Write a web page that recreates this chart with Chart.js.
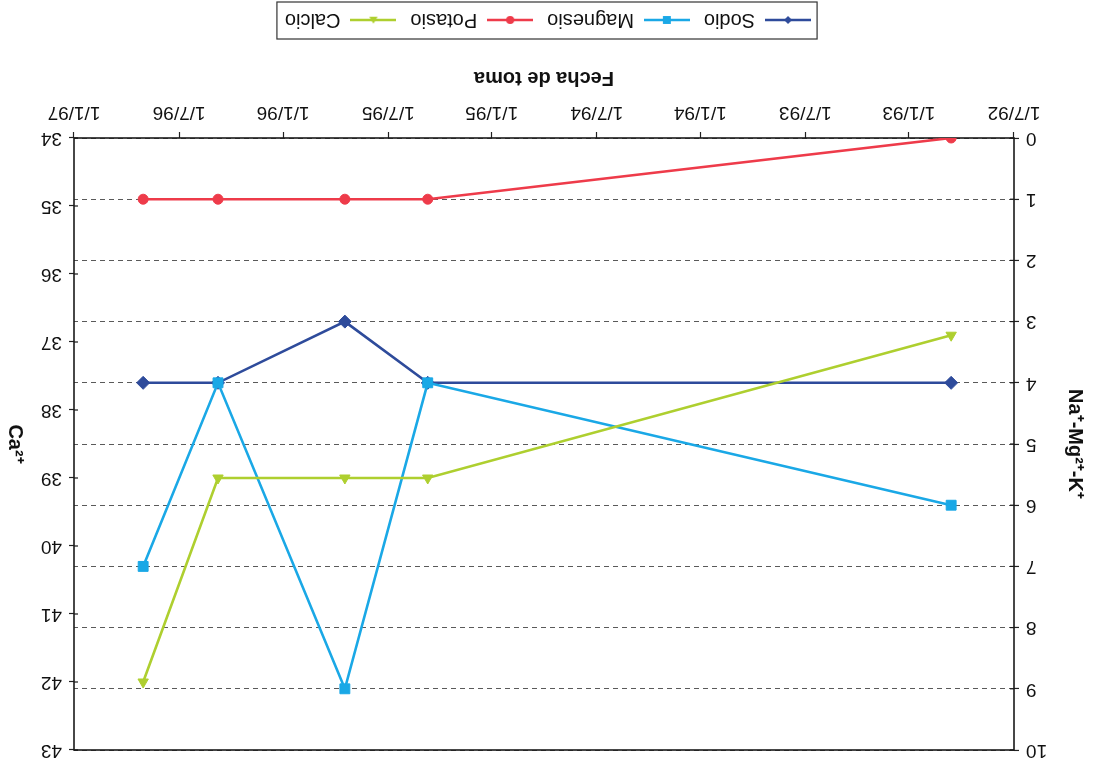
<!DOCTYPE html>
<html><head><meta charset="utf-8">
<script src="https://cdn.jsdelivr.net/npm/chart.js@4.4.0/dist/chart.umd.min.js"></script>
<style>
html,body{margin:0;padding:0;background:#fff;overflow:hidden;}
#wrap{width:1096px;height:770px;transform:rotate(180deg);transform-origin:50% 50%;}
canvas{display:block;}
</style></head><body>
<div id="wrap"><canvas id="c" width="1096" height="770"></canvas></div>
<script>
// ---- data ----
const tickLabels = ['1/7/92','1/1/93','1/7/93','1/1/94','1/7/94','1/1/95','1/7/95','1/1/96','1/7/96','1/1/97'];
const sampleDates = ['19/10/92','23/4/95','15/9/95','24/4/96','2/9/96'];
const sodio    = [4, 4, 3, 4, 4];
const magnesio = [6, 4, 9, 4, 7];
const potasio  = [0, 1, 1, 1, 1];
const calcio   = [36.9, 39, 39, 39, 42];
const seriesNames = ['Sodio', 'Magnesio', 'Potasio', 'Calcio'];

// ---- helpers ----
function toDay(s) {
  const [d, m, y] = s.split('/').map(Number);
  return Date.UTC(1900 + y, m - 1, d) / 86400000;
}
const tickDays = tickLabels.map(toDay);
const sampleDays = sampleDates.map(toDay);
const FONT = "'Liberation Sans', Arial, Helvetica, sans-serif";
Chart.defaults.font.family = FONT;
Chart.defaults.color = '#111';

const styles = [
  {color: '#2E4B9B', point: 'rectRot', r: 6.5},
  {color: '#1AA8E6', point: 'rect', r: 7},
  {color: '#EE3B4A', point: 'circle', r: 5},
  {color: '#AECF2F', point: 'triangle', r: 6}
];

function pts(vals) { return sampleDays.map((d, i) => ({x: d, y: vals[i]})); }

function marker(ctx, type, x, y, r) {
  ctx.beginPath();
  if (type === 'circle') { ctx.arc(x, y, r, 0, Math.PI * 2); }
  else if (type === 'rect') { const s = r * Math.SQRT1_2; ctx.rect(x - s, y - s, 2 * s, 2 * s); }
  else if (type === 'rectRot') { const s = r * Math.SQRT1_2 * 1.1; ctx.moveTo(x - s, y); ctx.lineTo(x, y + s); ctx.lineTo(x + s, y); ctx.lineTo(x, y - s); ctx.closePath(); }
  else if (type === 'triangle') {
    for (let k = 0; k < 3; k++) {
      const a = -Math.PI / 2 + k * 2 * Math.PI / 3;
      const px = x + Math.cos(a) * r, py = y + Math.sin(a) * r * 1.0 + r * 0.2;
      if (k === 0) ctx.moveTo(px, py); else ctx.lineTo(px, py);
    }
    ctx.closePath();
  }
  ctx.fill();
}

function legendIcon(st) {
  const c = document.createElement('canvas');
  c.width = 46; c.height = 16;
  const g = c.getContext('2d');
  g.strokeStyle = st.color; g.fillStyle = st.color; g.lineWidth = 2.5;
  g.beginPath(); g.moveTo(0, 8); g.lineTo(46, 8); g.stroke();
  marker(g, st.point, 23, 8, st.r * 0.8);
  return c;
}

const datasets = [sodio, magnesio, potasio, calcio].map((vals, i) => ({
  label: seriesNames[i],
  data: pts(vals),
  borderColor: styles[i].color,
  backgroundColor: styles[i].color,
  pointBackgroundColor: styles[i].color,
  pointBorderColor: styles[i].color,
  pointStyle: styles[i].point,
  pointRadius: styles[i].r,
  pointBorderWidth: 1,
  borderWidth: 2.6,
  tension: 0,
  fill: false,
  yAxisID: i === 3 ? 'y2' : 'y',
  order: 4 - i
}));

const framePlugin = {
  id: 'frame',
  beforeDatasetsDraw(chart) {
    const {ctx, chartArea: a} = chart;
    ctx.save();
    ctx.strokeStyle = '#1a1a1a';
    ctx.lineWidth = 1.6;
    ctx.strokeRect(a.left, a.top, a.right - a.left, a.bottom - a.top);
    ctx.lineWidth = 1.2;
    const y = chart.scales.y, y2 = chart.scales.y2;
    y.ticks.forEach(t => { const p = y.getPixelForValue(t.value); ctx.beginPath(); ctx.moveTo(a.left, p); ctx.lineTo(a.left + 4, p); ctx.stroke(); });
    y2.ticks.forEach(t => { const p = y2.getPixelForValue(t.value); ctx.beginPath(); ctx.moveTo(a.right, p); ctx.lineTo(a.right - 4, p); ctx.stroke(); });
    ctx.restore();
  },
  afterDraw(chart) {
    const {ctx, chartArea: a} = chart;
    ctx.save();
    ctx.translate(1081, (a.top + a.bottom) / 2);
    ctx.rotate(-Math.PI / 2);
    ctx.font = 'bold 20px ' + FONT;
    ctx.textAlign = 'center'; ctx.textBaseline = 'middle'; ctx.fillStyle = '#111';
    ctx.fillText('Ca²⁺', 0, 0);
    ctx.restore();
    const hb = chart.legend && chart.legend.legendHitBoxes;
    if (hb && hb.length) {
      const l = Math.min(...hb.map(b => b.left)) - 6;
      const r = Math.max(...hb.map(b => b.left + b.width)) + 8;
      const t = Math.min(...hb.map(b => b.top)) - 9;
      const bt = Math.max(...hb.map(b => b.top + b.height)) + 8;
      ctx.save();
      ctx.strokeStyle = '#333'; ctx.lineWidth = 1.2;
      ctx.strokeRect(l, t, r - l, bt - t);
      ctx.restore();
    }
  }
};

new Chart(document.getElementById('c'), {
  type: 'line',
  data: {datasets},
  plugins: [framePlugin],
  options: {
    responsive: false,
    animation: false,
    devicePixelRatio: 1,
    events: [],
    layout: {padding: {top: 20, left: 0, right: 0, bottom: 0}},
    plugins: {
      tooltip: {enabled: false},
      legend: {
        position: 'bottom',
        labels: {
          font: {size: 20},
          color: '#111',
          usePointStyle: true,
          pointStyleWidth: 46,
          padding: 14,
          generateLabels: (chart) => chart.data.datasets.map((ds, i) => ({
            text: ds.label,
            pointStyle: legendIcon(styles[i]),
            fillStyle: styles[i].color,
            strokeStyle: styles[i].color,
            lineWidth: 0,
            hidden: false,
            datasetIndex: i,
            fontColor: '#111'
          }))
        }
      }
    },
    scales: {
      x: {
        type: 'linear',
        position: 'bottom',
        min: tickDays[0],
        max: tickDays[tickDays.length - 1],
        afterBuildTicks: (scale) => { scale.ticks = tickDays.map(v => ({value: v})); },
        afterFit: (scale) => {
          const lh = (scale.chart.legend && scale.chart.legend.height) || 44;
          scale.height = 770 - 632 - lh;
        },
        ticks: {
          autoSkip: false, maxRotation: 0, minRotation: 0,
          font: {size: 19}, color: '#111', padding: 8,
          callback: (v, i) => tickLabels[i]
        },
        grid: {display: true, drawOnChartArea: false, drawTicks: true, tickLength: 6, tickColor: '#222', tickWidth: 1.2},
        border: {display: false},
        title: {display: true, text: 'Fecha de toma', font: {size: 20, weight: 'bold'}, color: '#111', padding: {top: 0, bottom: 22}}
      },
      y: {
        type: 'linear',
        position: 'left',
        min: 0, max: 10,
        afterFit: (scale) => { scale.width = 82; },
        ticks: {stepSize: 1, font: {size: 19}, color: '#111', padding: 7},
        grid: {display: true, drawOnChartArea: true, color: '#5a5a5a', lineWidth: 1.1, drawTicks: true, tickLength: 5, tickColor: '#222', tickWidth: 1.2},
        border: {display: false, dash: [5, 4]},
        title: {display: true, text: 'Na⁺-Mg²⁺-K⁺', font: {size: 20, weight: 'bold'}, color: '#111', padding: {top: 9, bottom: 0}}
      },
      y2: {
        type: 'linear',
        position: 'right',
        min: 34, max: 43,
        afterFit: (scale) => { scale.width = 74; },
        ticks: {stepSize: 1, font: {size: 19}, color: '#111', padding: 7},
        grid: {display: true, drawOnChartArea: false, drawTicks: true, tickLength: 5, tickColor: '#222', tickWidth: 1.2},
        border: {display: false}
      }
    }
  }
});
</script>
</body></html>
